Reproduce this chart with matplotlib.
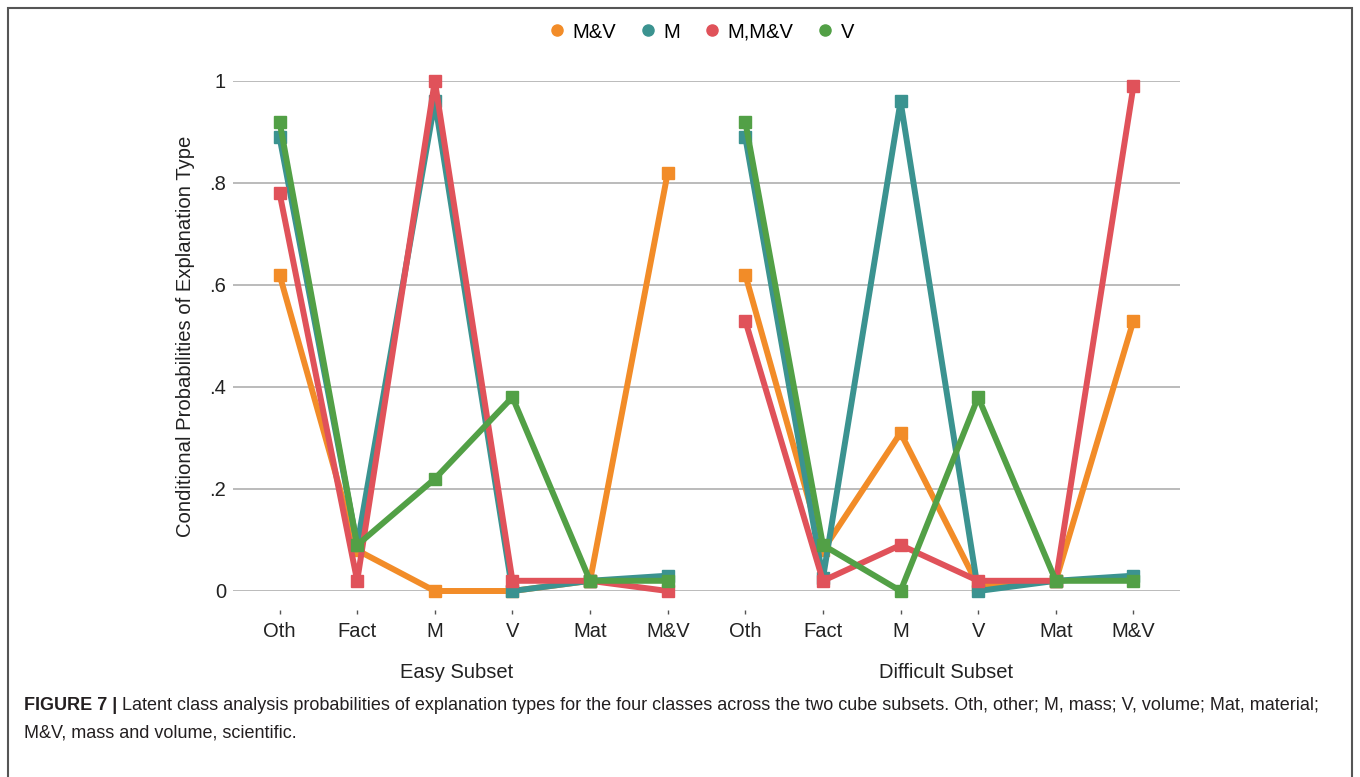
import matplotlib
matplotlib.use('Agg')
import matplotlib.pyplot as plt
from matplotlib.patches import Rectangle
from matplotlib.lines import Line2D
from matplotlib.transforms import blended_transform_factory

plt.rcParams['font.family'] = ['Liberation Sans', 'DejaVu Sans']

# categories for each subset
cats = ['Oth', 'Fact', 'M', 'V', 'Mat', 'M&V']
subsets = ['Easy Subset', 'Difficult Subset']

# class names and their values (easy subset then difficult subset)
classes = ['M&V', 'M', 'M,M&V', 'V']
mv_easy = [0.62, 0.08, 0.00, 0.00, 0.02, 0.82]
mv_diff = [0.62, 0.08, 0.31, 0.01, 0.02, 0.53]
m_easy = [0.89, 0.09, 0.96, 0.00, 0.02, 0.03]
m_diff = [0.89, 0.025, 0.96, 0.00, 0.02, 0.03]
mmv_easy = [0.78, 0.02, 1.00, 0.02, 0.02, 0.00]
mmv_diff = [0.53, 0.02, 0.09, 0.02, 0.02, 0.99]
v_easy = [0.92, 0.09, 0.22, 0.38, 0.02, 0.02]
v_diff = [0.92, 0.09, 0.00, 0.38, 0.02, 0.02]

yticks = [0, 0.2, 0.4, 0.6, 0.8, 1.0]
ytick_labels = ['0', '.2', '.4', '.6', '.8', '1']

colors = ['#F28C28', '#3B9390', '#E0525A', '#52A046']
series = [(mv_easy, mv_diff), (m_easy, m_diff), (mmv_easy, mmv_diff), (v_easy, v_diff)]

fig = plt.figure(figsize=(13.6, 7.77), dpi=100)
ax = fig.add_axes([233/1360, 1 - 591/777, (1180-233)/1360, (591-81)/777])

n = len(cats)
for name, col, (e, d) in zip(classes, colors, series):
    # easy subset and difficult subset are separate line segments
    ax.plot(range(n), e, color=col, lw=4.3, marker='s', ms=8, clip_on=False, zorder=3)
    ax.plot(range(n, 2*n), d, color=col, lw=4.3, marker='s', ms=8, clip_on=False, zorder=3)

ax.set_xlim(-0.6, 2*n - 1 + 0.6)
ax.set_ylim(0, 1)
ax.set_yticks(yticks)
ax.set_yticklabels(ytick_labels, fontsize=14.5, color='#222222')
ax.yaxis.grid(True, color='#b5b5b5', lw=1.3)
ax.set_axisbelow(True)
ax.tick_params(axis='y', length=0, pad=5)
ax.set_xticks(range(2*n))
ax.set_xticklabels(cats + cats, fontsize=14.5, color='#222222')
ax.tick_params(axis='x', length=0, pad=22)
for s in ax.spines.values():
    s.set_visible(False)

# tiny tick marks just above the category labels
ax.plot(range(2*n), [-0.042]*(2*n), linestyle='none', marker='|', ms=3,
        color='#555555', clip_on=False)

ax.set_ylabel('Conditional Probabilities of Explanation Type', fontsize=14.6,
              color='#222222', labelpad=10)

tr = blended_transform_factory(ax.transData, ax.transAxes)
ax.text(2.28, -0.16, subsets[0], transform=tr, ha='center', va='center',
        fontsize=14.5, color='#222222')
ax.text(8.58, -0.16, subsets[1], transform=tr, ha='center', va='center',
        fontsize=14.5, color='#222222')

handles = [Line2D([], [], linestyle='none', marker='o', ms=8, color=c) for c in colors]
fig.legend(handles, classes, loc='center', bbox_to_anchor=(0.515, 1 - 32/777),
           ncol=4, frameon=False, fontsize=14.5, handletextpad=0.25,
           columnspacing=1.1, handlelength=1.0)

# outer border
fig.patches.append(Rectangle((8/1360, -0.02), (1352-8)/1360, 1.02 - 8/777,
                             transform=fig.transFigure, fill=False,
                             edgecolor='#555555', lw=1.5))

# caption
t1 = fig.text(24/1360, 1 - 706/777, 'FIGURE 7 |', fontsize=13, fontweight='bold',
              color='#231f20', va='center')
fig.canvas.draw()
bb = t1.get_window_extent()
fig.text((bb.x1 + 5)/1360, 1 - 706/777,
         'Latent class analysis probabilities of explanation types for the four classes '
         'across the two cube subsets. Oth, other; M, mass; V, volume; Mat, material;',
         fontsize=13, color='#231f20', va='center')
fig.text(24/1360, 1 - 733/777, 'M&V, mass and volume, scientific.', fontsize=13,
         color='#231f20', va='center')

fig.savefig('out.png', dpi=100)
